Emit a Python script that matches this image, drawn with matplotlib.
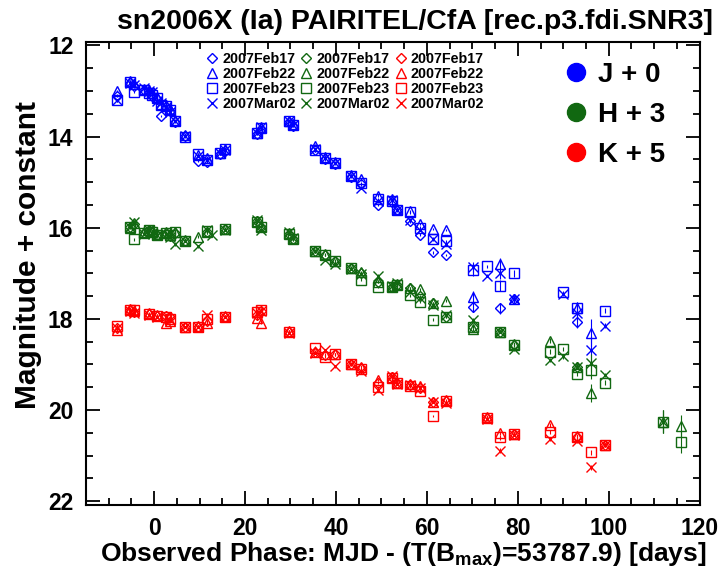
import numpy as np
import matplotlib.pyplot as plt
from matplotlib.lines import Line2D
from matplotlib.ticker import MultipleLocator

N = np.nan

# observed phase of each PAIRITEL night (days from B max)
phase = [-8.2, -5.3, -4.4, -2.2, -1.1, -0.4, 0.7, 1.6, 2.7, 3.6, 4.7, 6.7, 9.6, 11.6,
         12.7, 14.5, 15.6, 22.6, 23.6, 29.6, 30.6, 35.4, 37.5, 39.7, 43.3, 45.5, 49.2,
         52.4, 53.4, 56.2, 58.4, 61.4, 64.3, 70.1, 73.2, 76.1, 79.2, 87.0, 90.0, 93.1,
         96.0, 99.1, 111.9, 115.8]

reductions = ['2007Feb17', '2007Feb22', '2007Feb23', '2007Mar02']

# J + 0
J_feb17 = [13.10, 12.82, 12.88, 12.97, 13.02, 13.10, 13.18, 13.55, 13.36, 13.44, 13.68, 13.98, 14.53, 14.55,
           N, 14.38, 14.32, 13.94, 13.84, 13.68, 13.76, 14.30, 14.50, 14.60, 14.88, 15.05, 15.50,
           15.44, 15.62, 15.86, 16.15, 16.54, 16.60, 17.73, N, 17.77, 17.57, N, N, 18.06,
           N, N, N, N]
J_feb22 = [13.00, 12.78, 12.84, 12.95, 12.98, 13.05, 13.12, 13.28, 13.30, 13.40, 13.64, 13.96, 14.40, 14.46,
           N, 14.36, 14.28, 13.92, 13.80, 13.65, 13.72, 14.20, 14.44, 14.56, 14.84, 14.94, 15.30,
           15.38, 15.58, 15.64, 15.92, 16.03, 16.05, 17.51, N, 16.79, 17.57, N, N, 17.77,
           18.31, N, N, N]
J_feb23 = [13.20, 12.80, 13.02, 12.98, 13.04, 13.08, 13.15, 13.30, 13.33, 13.41, 13.66, 14.00, 14.38, 14.52,
           N, 14.35, 14.28, 13.93, 13.82, 13.66, 13.74, 14.30, 14.47, 14.58, 14.86, 15.02, 15.38,
           15.42, 15.60, 15.66, 16.00, 16.25, 16.30, 16.93, 16.85, 17.27, 17.00, N, 17.42, 17.77,
           N, 17.82, N, N]
J_mar02 = [13.20, 12.82, 12.86, 12.93, 13.00, 13.03, 13.22, 13.27, 13.34, 13.45, 13.66, 13.98, 14.42, 14.52,
           N, 14.37, 14.30, 13.92, 13.80, 13.66, 13.74, 14.28, 14.47, 14.58, 14.86, 15.12, 15.42,
           15.40, 15.60, 15.82, 16.05, 16.24, 16.35, 16.87, 17.05, 17.00, 17.57, N, 17.45, 17.88,
           18.68, 18.15, N, N]
J_err = [0.03] * 33 + [0.12, 0.04, 0.12, 0.08, 0.03, 0.04, 0.15, 0.30, 0.06, 0.03, 0.03]

# H + 3
H_feb17 = [N, 15.98, 15.92, 16.12, 16.06, 16.10, 16.15, N, 16.12, 16.18, 16.12, 16.28, N, 16.10,
           N, N, 16.03, 15.86, 15.98, 16.14, 16.25, 16.52, 16.60, 16.74, 16.89, 17.00, 17.18,
           17.29, 17.25, 17.33, 17.50, 17.66, 17.95, 18.17, N, 18.28, 18.57, N, N, 19.05,
           N, N, N, N]
H_feb22 = [N, 16.00, 15.90, 16.10, 16.04, 16.08, 16.14, N, 16.10, 16.17, 16.10, 16.26, 16.20, 16.10,
           N, N, 16.02, 15.86, 15.97, 16.12, 16.23, 16.50, 16.58, 16.72, 16.88, 16.98, 17.18,
           17.28, 17.24, 17.32, 17.35, 17.66, 17.60, 18.23, N, 18.28, 18.55, 18.48, N, 19.05,
           19.63, N, 20.26, 20.35]
H_feb23 = [N, 15.98, 16.25, 16.12, 16.06, 16.10, 16.16, N, 16.12, 16.16, 16.10, 16.28, N, 16.08,
           N, N, 16.03, 15.88, 15.98, 16.14, 16.25, 16.52, 16.60, 16.74, 16.89, 17.14, 17.30,
           17.29, 17.26, 17.48, 17.62, 18.02, 17.95, 18.17, N, 18.28, 18.57, 18.72, 18.66, 19.20,
           19.13, 19.40, 20.26, 20.70]
H_mar02 = [N, 15.98, 15.88, 16.14, 16.05, 16.12, 16.15, N, 16.13, 16.20, 16.36, 16.28, 16.41, 16.06,
           16.17, N, 16.04, 15.83, 16.05, 16.10, 16.22, 16.52, 16.70, 16.80, 16.90, 17.02, 17.05,
           17.27, 17.22, 17.40, 17.55, 17.70, 17.92, 18.02, N, 18.28, 18.67, 18.90, 18.82, 19.05,
           18.97, 19.23, 20.26, N]
H_err = [0.03] * 36 + [0.04, 0.05, 0.05, 0.05, 0.20, 0.05, 0.25, 0.25]

# K + 5
K_feb17 = [18.20, 17.80, 17.84, N, 17.89, N, 17.93, N, 17.93, 17.96, N, 18.18, 18.17, 18.05,
           N, N, 17.95, 17.92, 17.82, 18.28, N, 18.73, 18.80, 18.78, 18.99, 19.08, 19.40,
           19.28, 19.40, 19.45, 19.52, 19.82, 19.80, N, 20.18, N, 20.53, N, N, 20.59,
           N, 20.77, N, N]
K_feb22 = [18.25, 17.78, 17.82, N, 17.88, N, 17.92, N, 18.10, 18.05, N, 18.18, 18.16, 18.10,
           N, N, 17.94, 17.99, 18.08, 18.27, N, 18.72, 18.78, 18.77, 18.98, 19.05, 19.34,
           19.28, 19.40, 19.42, 19.48, 19.82, 19.78, N, 20.15, 20.50, 20.52, 20.33, N, 20.58,
           N, 20.76, N, N]
K_feb23 = [18.15, 17.80, 17.80, N, 17.90, N, 17.94, N, 17.95, 18.00, N, 18.18, 18.17, 18.00,
           N, N, 17.95, 17.84, 17.80, 18.28, N, 18.63, 18.83, 18.78, 19.00, 19.10, 19.50,
           19.30, 19.40, 19.48, 19.58, 20.13, 19.80, N, 20.18, 20.60, 20.53, 20.48, N, 20.59,
           20.93, 20.77, N, N]
K_mar02 = [18.20, 17.82, 17.88, N, 17.92, N, 17.95, N, 17.96, 18.02, N, 18.18, 18.18, 17.91,
           N, N, 17.96, 17.86, 17.82, 18.30, N, 18.75, 18.68, 19.04, 19.00, 19.15, 19.56,
           19.26, 19.42, 19.45, 19.52, 19.82, 19.84, N, 20.20, 20.89, 20.54, 20.64, N, 20.68,
           21.26, 20.77, N, N]
K_err = [0.03] * 34 + [0.04, 0.05, 0.04, 0.05, 0.05, 0.05, 0.06, 0.04, 0.05, 0.05]

band_labels = ['J + 0', 'H + 3', 'K + 5']
colors = ['#0000ff', '#116811', '#ff0000']
markers = ['D', '^', 's', 'x']
msizes = [5.0, 6.5, 6.5, 6.5]

plt.rcParams['font.family'] = ['Liberation Sans', 'DejaVu Sans']
plt.rcParams['font.weight'] = 'bold'
plt.rcParams['mathtext.fontset'] = 'custom'
plt.rcParams['mathtext.rm'] = 'Liberation Sans:bold'
plt.rcParams['mathtext.bf'] = 'Liberation Sans:bold'

fig = plt.figure(figsize=(7.22, 5.73), dpi=100)
ax = fig.add_axes([0.119, 0.119, 0.850, 0.808])

bands = [
    (J_err, [J_feb17, J_feb22, J_feb23, J_mar02]),
    (H_err, [H_feb17, H_feb22, H_feb23, H_mar02]),
    (K_err, [K_feb17, K_feb22, K_feb23, K_mar02]),
]

handles = []
for (err, series), c in zip(bands, colors):
    for vals, m, ms, lab in zip(series, markers, msizes, reductions):
        ax.errorbar(phase, vals, yerr=err, fmt=m, ms=ms, mfc='none', mec=c, mew=1.0,
                    ecolor=c, elinewidth=0.8, capsize=0, ls='none')
        handles.append(Line2D([], [], ls='none', marker=m, ms=ms, mfc='none', mec=c,
                              mew=1.0, label=lab))

leg1 = ax.legend(handles=handles, ncol=3, loc='upper left', bbox_to_anchor=(0.18, 1.0),
                 frameon=False, prop={'size': 10.3, 'weight': 'bold'}, handlelength=0.8,
                 handletextpad=0.3, columnspacing=0.35, labelspacing=0.08, borderaxespad=0.3)
ax.add_artist(leg1)

band_handles = [Line2D([], [], ls='none', marker='o', ms=13, mfc=c, mec=c, label=l)
                for c, l in zip(colors, band_labels)]
ax.legend(handles=band_handles, loc='upper right', bbox_to_anchor=(0.985, 1.01),
          frameon=False, prop={'size': 20, 'weight': 'bold'}, handlelength=0.7,
          handletextpad=0.45, labelspacing=0.5)

ax.set_xlim(-15, 120)
ax.set_ylim(22.08, 11.92)
ax.xaxis.set_major_locator(MultipleLocator(20))
ax.xaxis.set_minor_locator(MultipleLocator(5))
ax.yaxis.set_major_locator(MultipleLocator(2))
ax.yaxis.set_minor_locator(MultipleLocator(0.5))
ax.tick_params(which='both', direction='in', top=True, right=True, width=1.3,
               labelsize=16.5)
ax.tick_params(which='major', length=10, pad=9)
ax.tick_params(which='minor', length=5)
for s in ax.spines.values():
    s.set_linewidth(1.5)

ax.set_xlabel(r'Observed Phase: MJD - (T(B$_{\rm max}$)=53787.9) [days]', fontsize=19,
              fontweight='bold', labelpad=0)
ax.xaxis.label.set_x(0.517)
ax.set_ylabel('Magnitude + constant', fontsize=21.5, fontweight='bold', labelpad=4)
ax.yaxis.label.set_y(0.54)
fig.text(0.575, 0.962, 'sn2006X (Ia) PAIRITEL/CfA [rec.p3.fdi.SNR3]', ha='center',
         va='center', fontsize=20.5, fontweight='bold')

fig.savefig('out.png', dpi=100)
